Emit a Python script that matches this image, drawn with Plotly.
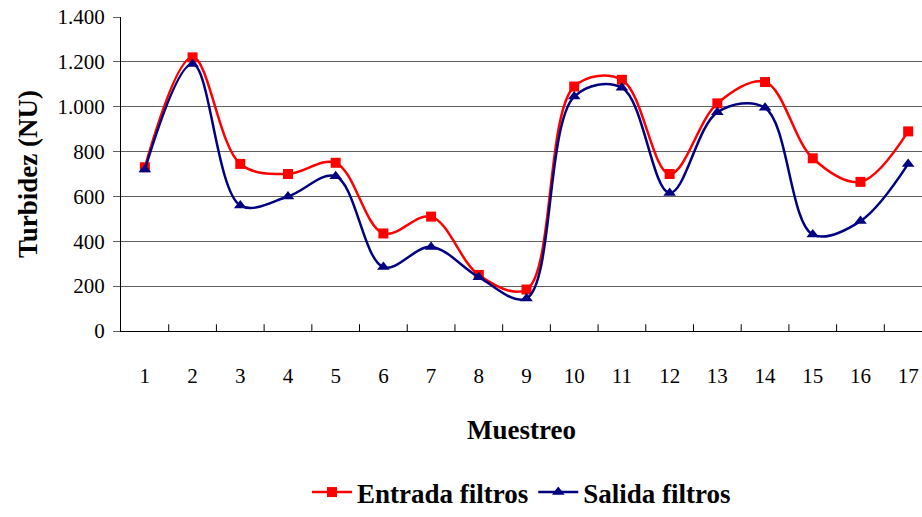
import plotly.graph_objects as go

# muestreo number and turbidity readings (NU)
muestreo = list(range(1, 18))
entrada = [730, 1220, 745, 700, 750, 435, 510, 250, 185, 1090, 1120, 700, 1015, 1110, 770, 665, 890]
salida = [720, 1190, 560, 600, 690, 285, 375, 240, 145, 1045, 1085, 615, 975, 995, 430, 490, 745]

font_fam = "Liberation Serif"

fig = go.Figure()
fig.add_trace(go.Scatter(
    x=muestreo, y=entrada, name="Entrada filtros",
    mode="lines+markers", line=dict(color="#ff0000", width=2.5, shape="spline", smoothing=1),
    marker=dict(symbol="square", size=10, color="#ff0000"),
))
fig.add_trace(go.Scatter(
    x=muestreo, y=salida, name="Salida filtros",
    mode="lines+markers", line=dict(color="#000080", width=2.5, shape="spline", smoothing=1),
    marker=dict(symbol="triangle-up", size=11, color="#000080"),
))

fig.update_layout(
    width=922, height=517,
    margin=dict(l=121, r=0, t=17, b=181),
    plot_bgcolor="white", paper_bgcolor="white",
    separators=",.",
    font=dict(family=font_fam, size=21, color="black"),
    showlegend=True,
    legend=dict(orientation="h", x=0.5, xanchor="center", y=-0.515, yanchor="middle",
                font=dict(size=27, family=font_fam, weight="bold"),
                itemwidth=40, tracegroupgap=0),
)
fig.update_xaxes(
    range=[0.5, 17.29], tickmode="array", tickvals=muestreo, automargin=False,
    showgrid=False, showline=True, linecolor="black", linewidth=1,
    ticks="", ticklabelstandoff=26, ticklabeloverflow="allow",
    title=dict(text="<b>Muestreo</b>", font=dict(size=27), standoff=32),
)
fig.update_yaxes(
    range=[0, 1400], dtick=200, tickformat=",d", automargin=False,
    showgrid=True, gridcolor="#606060", gridwidth=1,
    showline=True, linecolor="black", linewidth=1,
    ticks="outside", ticklen=7, tickcolor="#606060", ticklabelstandoff=4,
    ticklabeloverflow="allow", zeroline=False,
    title=dict(text="<b>Turbidez (NU)</b>", font=dict(size=27), standoff=12),
)

# inner tick marks between categories on the x axis
for k in range(1, 18):
    fig.add_shape(type="line", xref="x", yref="y", x0=k + 0.5, x1=k + 0.5, y0=0, y1=30,
                  line=dict(color="black", width=1))

# drop the default 8px body margin so the figure sits at the window corner
fig.write_html("out.html", config={"displayModeBar": False},
               post_script="document.body.style.margin='0';")
